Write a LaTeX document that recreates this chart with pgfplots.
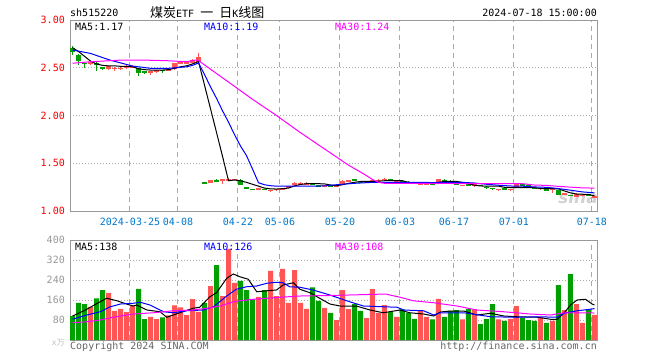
\documentclass[border=0pt]{standalone}
\usepackage{pgfplots}
\pgfplotsset{compat=1.18}
\usepackage{pgfplotstable}
\usepackage{fontspec}
\setmainfont{DejaVu Sans Mono}
\newfontfamily\cjk{Noto Sans CJK SC}
\newfontfamily\sinafont{DejaVu Sans}
\definecolor{upred}{HTML}{FF5555}
\definecolor{dngreen}{HTML}{00A000}
\definecolor{framec}{HTML}{999999}
\definecolor{gridc}{HTML}{AAAAAA}
\definecolor{datec}{HTML}{0077CC}
\definecolor{maten}{HTML}{0000FF}
\definecolor{mathirty}{HTML}{FF00FF}
\definecolor{copyc}{HTML}{666666}

% x open high low close volume
\pgfplotstableread{
x o h l c v
3 2.545 2.57 2.53 2.56 133
6 2.485 2.52 2.48 2.515 189
7 2.49 2.51 2.47 2.495 117
8 2.49 2.51 2.48 2.495 125
9 2.50 2.53 2.49 2.51 112
10 2.505 2.53 2.50 2.515 136
13 2.455 2.47 2.42 2.46 93
14 2.465 2.48 2.44 2.475 84
16 2.475 2.49 2.47 2.485 99
17 2.485 2.55 2.48 2.545 139
18 2.55 2.57 2.54 2.555 131
19 2.55 2.57 2.54 2.555 100
20 2.55 2.59 2.55 2.58 164
21 2.56 2.65 2.55 2.61 113
23 1.295 1.325 1.29 1.32 216
25 1.325 1.335 1.285 1.33 176
26 1.325 1.345 1.32 1.33 365
27 1.325 1.34 1.32 1.335 229
31 1.22 1.245 1.215 1.24 173
33 1.215 1.225 1.20 1.22 277
34 1.225 1.235 1.215 1.23 176
35 1.23 1.24 1.22 1.235 285
36 1.25 1.26 1.245 1.255 149
37 1.27 1.30 1.265 1.295 280
38 1.285 1.30 1.28 1.29 149
39 1.285 1.30 1.28 1.29 125
42 1.26 1.27 1.255 1.265 129
44 1.255 1.265 1.25 1.26 80
45 1.285 1.32 1.28 1.315 200
46 1.315 1.325 1.30 1.32 124
49 1.305 1.315 1.30 1.31 88
50 1.315 1.325 1.31 1.32 204
51 1.32 1.33 1.305 1.325 109
52 1.325 1.345 1.32 1.34 140
54 1.315 1.325 1.31 1.32 93
58 1.285 1.295 1.28 1.29 117
59 1.285 1.295 1.28 1.29 93
61 1.305 1.34 1.30 1.335 165
65 1.265 1.275 1.26 1.27 83
67 1.27 1.28 1.255 1.275 123
71 1.225 1.235 1.21 1.23 83
73 1.225 1.235 1.215 1.23 85
74 1.255 1.285 1.25 1.28 136
78 1.235 1.245 1.225 1.24 91
80 1.225 1.24 1.19 1.235 77
82 1.175 1.185 1.165 1.18 120
84 1.15 1.185 1.145 1.18 144
85 1.16 1.17 1.155 1.165 69
87 1.14 1.16 1.135 1.155 101
}\redc

\pgfplotstableread{
x o h l c v
0 2.71 2.73 2.63 2.66 96
1 2.63 2.64 2.53 2.57 149
2 2.55 2.555 2.50 2.545 144
4 2.555 2.56 2.47 2.53 167
5 2.50 2.51 2.48 2.495 200
11 2.495 2.50 2.41 2.44 205
12 2.46 2.47 2.43 2.455 84
15 2.475 2.48 2.45 2.47 91
22 1.295 1.30 1.285 1.29 149
24 1.32 1.33 1.30 1.315 300
28 1.32 1.33 1.27 1.275 237
29 1.245 1.25 1.23 1.24 200
30 1.23 1.235 1.22 1.225 164
32 1.23 1.235 1.22 1.225 200
40 1.29 1.295 1.28 1.285 211
41 1.265 1.27 1.25 1.26 157
43 1.265 1.27 1.255 1.26 109
47 1.33 1.335 1.315 1.325 144
48 1.305 1.31 1.295 1.30 117
53 1.335 1.34 1.325 1.33 112
55 1.31 1.315 1.30 1.305 123
56 1.305 1.31 1.29 1.30 109
57 1.30 1.305 1.29 1.295 85
60 1.29 1.295 1.28 1.285 83
62 1.325 1.33 1.31 1.32 93
63 1.315 1.32 1.30 1.31 117
64 1.29 1.295 1.275 1.285 120
66 1.275 1.28 1.26 1.27 125
68 1.27 1.275 1.26 1.265 64
69 1.255 1.26 1.235 1.24 85
70 1.24 1.245 1.225 1.235 144
72 1.235 1.24 1.225 1.23 77
75 1.275 1.28 1.265 1.27 88
76 1.265 1.27 1.255 1.26 80
77 1.245 1.25 1.235 1.24 77
79 1.225 1.23 1.21 1.22 69
81 1.22 1.225 1.165 1.17 220
83 1.165 1.17 1.155 1.16 264
86 1.17 1.175 1.16 1.165 120
}\greenc

\pgfplotsset{
  kpanel/.style={
    scale only axis, width=527pt,
    xmin=-0.42, xmax=87.42,
    axis line style={framec, line width=1pt},
    xtick={9.58,17.58,27.58,34.58,44.58,54.58,63.58,73.58,86.58},
    major tick length=0pt,
    xmajorgrids, ymajorgrids,
    x grid style={gridc, line width=1pt, dash pattern=on 5pt off 4pt},
    y grid style={gridc, line width=1pt, dash pattern=on 1pt off 2pt},
    yticklabel style={inner sep=0pt, anchor=east, xshift=-5pt},
    every axis plot/.append style={line width=1pt},
  },
  wick/.style={draw=none, mark=none, forget plot,
    error bars/.cd, y dir=both, y explicit, error mark=none,
    error bar style={draw=#1, line width=1pt}},
  body/.style={draw=none, mark=none, forget plot,
    error bars/.cd, y dir=both, y explicit, error mark=none,
    error bar style={draw=#1, line width=5pt}},
}

\begin{document}
\begin{tikzpicture}[x=1pt,y=1pt]
\useasboundingbox (0,0) rectangle (660,-360);

% watermark
\node[anchor=center, inner sep=0, text=black!18] at (578,-197)
  {\sinafont\fontsize{17}{17}\selectfont\bfseries\itshape sina};

% header
\node[anchor=base west, inner sep=0] at (70,-16.5) {sh515220};
\node[anchor=base east, inner sep=0] at (597,-16.5) {2024-07-18 15:00:00};
\node[anchor=base west, inner sep=0] at (150,-17)
  {{\cjk\fontsize{13}{13}\selectfont 煤炭}ETF {\cjk\fontsize{13}{13}\selectfont 一} {\cjk\fontsize{13}{13}\selectfont 日}K{\cjk\fontsize{13}{13}\selectfont 线图}};

% ---------- price panel ----------
\begin{axis}[kpanel,
  at={(70pt,-20pt)}, anchor=north west, height=191pt,
  ymin=1, ymax=3,
  ytick={1,1.5,2,2.5,3},
  yticklabels={1.00,1.50,2.00,2.50,3.00},
  yticklabel style={text=red},
  xticklabels={2024-03-25,04-08,04-22,05-06,05-20,06-03,06-17,07-01,07-18},
  xticklabel style={text=datec, inner sep=0pt, anchor=north, yshift=-6.5pt},
]
\addplot[wick=upred] table[x=x, y expr={(\thisrow{h}+\thisrow{l})/2},
  y error expr={(\thisrow{h}-\thisrow{l})/2}] {\redc};
\addplot[body=upred] table[x=x, y expr={(\thisrow{o}+\thisrow{c})/2},
  y error expr={max(abs(\thisrow{c}-\thisrow{o})/2,0.006)}] {\redc};
\addplot[wick=dngreen] table[x=x, y expr={(\thisrow{h}+\thisrow{l})/2},
  y error expr={(\thisrow{h}-\thisrow{l})/2}] {\greenc};
\addplot[body=dngreen] table[x=x, y expr={(\thisrow{o}+\thisrow{c})/2},
  y error expr={max(abs(\thisrow{c}-\thisrow{o})/2,0.006)}] {\greenc};

% MA5
\addplot[black] coordinates {(0,2.71)(1,2.67)(2,2.62)(3,2.57)(4,2.54)(5,2.525)(6,2.52)(7,2.52)(8,2.515)(9,2.515)(10,2.51)(11,2.49)(12,2.48)(13,2.476)(14,2.476)(15,2.476)(16,2.48)(17,2.495)(18,2.51)(19,2.52)(20,2.54)(21,2.565)(22,2.318)(23,2.071)(24,1.823)(25,1.573)(26,1.317)(27,1.325)(28,1.315)(29,1.30)(30,1.28)(31,1.26)(32,1.24)(33,1.232)(34,1.23)(35,1.234)(36,1.24)(37,1.262)(38,1.278)(39,1.286)(40,1.288)(41,1.286)(42,1.284)(43,1.272)(44,1.265)(45,1.275)(46,1.29)(47,1.30)(48,1.31)(49,1.31)(50,1.31)(51,1.312)(52,1.317)(53,1.317)(54,1.317)(55,1.317)(56,1.30)(57,1.295)(58,1.29)(59,1.29)(60,1.29)(61,1.30)(62,1.31)(63,1.31)(64,1.31)(65,1.30)(66,1.285)(67,1.27)(68,1.262)(71,1.26)(72,1.248)(74,1.244)(77,1.244)(78,1.236)(81,1.232)(82,1.21)(83,1.19)(84,1.178)(86,1.173)(87,1.158)};
% MA10
\addplot[maten] coordinates {(0,2.686)(3,2.65)(6.25,2.58)(10,2.518)(13,2.494)(16,2.494)(19,2.51)(20,2.525)(21,2.55)(22,2.43)(23,2.30)(24,2.18)(25,2.05)(26,1.93)(27,1.80)(28,1.68)(29,1.58)(30,1.44)(31,1.296)(32,1.275)(33,1.265)(34,1.26)(42,1.262)(43,1.27)(45,1.28)(47,1.29)(50,1.30)(59,1.30)(60,1.296)(61,1.30)(65,1.30)(67,1.293)(69,1.28)(71,1.27)(73,1.262)(75,1.26)(77,1.252)(79,1.248)(81,1.235)(83,1.218)(85,1.20)(87,1.19)};
% MA30
\addplot[mathirty] coordinates {(0,2.547)(3,2.563)(8,2.58)(12,2.58)(15.7,2.574)(19,2.563)(20.5,2.58)(21,2.575)(26,2.35)(30,2.17)(34,2.0)(38,1.82)(42,1.65)(46,1.48)(48.5,1.39)(50,1.33)(51,1.30)(52,1.29)(75,1.286)(77,1.272)(79,1.268)(81,1.258)(83,1.25)(85,1.242)(87,1.24)};
\end{axis}

\node[anchor=base west, inner sep=0] at (75,-30) {MA5:1.17};
\node[anchor=base west, inner sep=0, text=maten] at (204,-30) {MA10:1.19};
\node[anchor=base west, inner sep=0, text=mathirty] at (335,-30) {MA30:1.24};

% ---------- volume panel ----------
\begin{axis}[kpanel,
  at={(70pt,-240pt)}, anchor=north west, height=100pt,
  ymin=0, ymax=400,
  ytick={80,160,240,320,400},
  yticklabels={80,160,240,320,400},
  yticklabel style={text=framec},
  xticklabels={},
]
\addplot[ybar, bar width=5pt, bar shift=0pt, fill=upred, draw=none, forget plot] table[x=x, y=v] {\redc};
\addplot[ybar, bar width=5pt, bar shift=0pt, fill=dngreen, draw=none, forget plot] table[x=x, y=v] {\greenc};
\addplot[black] coordinates {(0,96)(2,118)(4.6,153)(5.7,167)(7.4,157)(9,144)(10.1,136)(10.7,140)(12.4,120)(14.6,113)(15.7,91)(16.8,100)(20.1,127)(21.2,131)(22.9,173)(24,189)(25.7,247)(26.8,264)(27.9,253)(29.3,243)(30.7,193)(32.4,197)(34,200)(35.1,220)(36.8,229)(37.9,203)(39.6,189)(41.2,167)(42.9,144)(44.6,136)(47.3,136)(49.6,120)(51.8,109)(54.6,120)(56.2,109)(58.5,104)(60.2,96)(61.3,112)(63,116)(65.2,116)(67.4,100)(69.7,107)(71.9,96)(74.1,93)(77.5,91)(79.7,83)(80.8,83)(81.9,107)(83,140)(84.1,160)(85.5,163)(86.6,144)(87,140)};
\addplot[maten] coordinates {(0,83)(2.4,100)(4.6,113)(6.3,133)(8,144)(10.1,147)(11.3,151)(12.9,140)(15.2,113)(16.8,109)(19,117)(21.8,120)(23.5,133)(25.7,176)(27.3,203)(29,213)(30.7,216)(32.4,227)(34,231)(35.1,229)(36.2,213)(37.9,211)(40.1,200)(42.9,180)(46.2,153)(48.5,136)(54.1,131)(55.2,120)(58.5,117)(60.2,100)(61.3,109)(65.2,109)(69.7,93)(74.1,91)(77.5,93)(80.8,91)(81.9,107)(84.1,117)(86.3,123)(87,126)};
\addplot[mathirty] coordinates {(0,69)(2.4,73)(4.6,80)(6.8,91)(10.1,104)(13.5,109)(16.8,117)(20.1,120)(22.4,127)(24.6,136)(26.8,153)(27.9,157)(30.2,163)(34.6,171)(37.9,176)(42.9,178)(52.3,184)(52.9,180)(54.6,171)(56.8,157)(60.2,149)(64.1,136)(67.4,120)(71.9,113)(76.3,104)(79.7,100)(81.9,109)(87,108)};
\end{axis}

\node[anchor=base west, inner sep=0] at (75,-250) {MA5:138};
\node[anchor=base west, inner sep=0, text=maten] at (204,-250) {MA10:126};
\node[anchor=base west, inner sep=0, text=mathirty] at (335,-250) {MA30:108};

% footer
\node[anchor=base east, inner sep=0, text=black!25] at (65,-345) {\fontsize{8}{8}\selectfont x{\cjk 万}};
\node[anchor=base west, inner sep=0, text=copyc] at (70,-349) {Copyright 2024 SINA.COM};
\node[anchor=base east, inner sep=0, text=copyc] at (597,-349) {http://finance.sina.com.cn};
\end{tikzpicture}
\end{document}
